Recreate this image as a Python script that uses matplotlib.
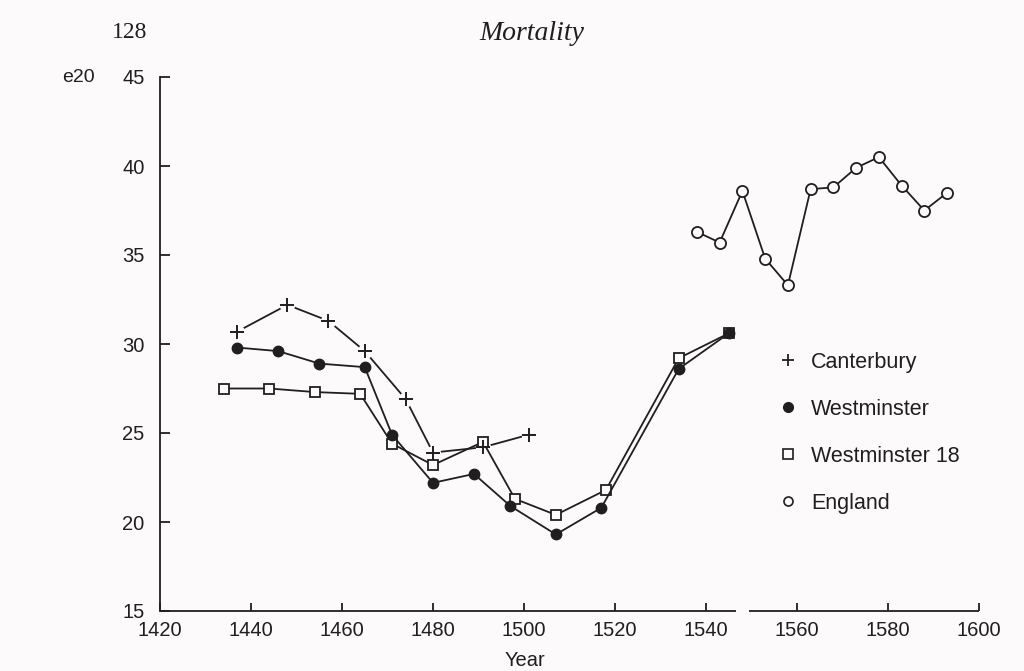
import matplotlib
matplotlib.use("Agg")
from matplotlib import pyplot as plt
from matplotlib.lines import Line2D

# values (e20 = life expectancy at age 20)
canterbury_years = [1437, 1448, 1457, 1465, 1474, 1480, 1491, 1501]
canterbury_e20 = [30.7, 32.2, 31.3, 29.6, 26.9, 23.9, 24.2, 24.9]

westminster_years = [1437, 1446, 1455, 1465, 1471, 1480, 1489, 1497, 1507, 1517, 1534, 1545]
westminster_e20 = [29.8, 29.6, 28.9, 28.7, 24.9, 22.2, 22.7, 20.9, 19.3, 20.8, 28.6, 30.6]

west18_years = [1434, 1444, 1454, 1464, 1471, 1480, 1491, 1498, 1507, 1518, 1534, 1545]
west18_e20 = [27.5, 27.5, 27.3, 27.2, 24.4, 23.2, 24.5, 21.3, 20.4, 21.8, 29.2, 30.6]

england_years = [1538, 1543, 1548, 1553, 1558, 1563, 1568, 1573, 1578, 1583, 1588, 1593]
england_e20 = [36.3, 35.7, 38.6, 34.8, 33.3, 38.7, 38.8, 39.9, 40.5, 38.9, 37.5, 38.5]

xticks = list(range(1420, 1601, 20))
yticks = list(range(15, 46, 5))
legend_labels = ["Canterbury", "Westminster", "Westminster 18", "England"]

ink = "#1f1f1f"
paper = "#fcfafa"

plt.rcParams["font.family"] = ["Liberation Sans", "DejaVu Sans"]

fig = plt.figure(figsize=(10.24, 6.71), dpi=100, facecolor=paper)
ax = fig.add_axes([160/1024, 1 - 611/671, 819/1024, 534/671])
ax.set_facecolor(paper)

# Canterbury: line with small gaps round the crosses
ax.plot(canterbury_years, canterbury_e20, color=ink, lw=1.3, zorder=2)
ax.plot(canterbury_years, canterbury_e20, ls="none", marker="o", ms=11,
        mfc=paper, mec="none", zorder=2.5)
ax.plot(canterbury_years, canterbury_e20, ls="none", marker="+", ms=10,
        mew=1.4, color=ink, zorder=5)

ax.plot(west18_years, west18_e20, color=ink, lw=1.3, marker="s", ms=7.5,
        mfc=paper, mec=ink, mew=1.3, zorder=3)
ax.plot(westminster_years, westminster_e20, color=ink, lw=1.3, marker="o", ms=7.5,
        mfc=ink, mec=ink, zorder=4)
ax.plot(england_years, england_e20, color=ink, lw=1.3, marker="o", ms=8,
        mfc=paper, mec=ink, mew=1.3, zorder=3)

ax.set_xlim(1420, 1600)
ax.set_ylim(15, 45)
ax.set_xticks(xticks)
ax.set_yticks(yticks)
ax.tick_params(axis="both", direction="in", colors=ink, labelsize=14.5, width=1.3)
ax.tick_params(axis="y", length=7, pad=11)
ax.tick_params(axis="x", length=6, pad=7)

for s in ["top", "right", "bottom"]:
    ax.spines[s].set_visible(False)
ax.spines["left"].set_color(ink)
ax.spines["left"].set_linewidth(1.3)

# broken x axis
ax.hlines(15, 1420, 1546.5, color=ink, lw=1.3, clip_on=False, zorder=6)
ax.hlines(15, 1549.5, 1600, color=ink, lw=1.3, clip_on=False, zorder=6)

handles = [
    Line2D([], [], ls="none", marker="+", ms=9, mew=1.3, color=ink),
    Line2D([], [], ls="none", marker="o", ms=7, mfc=ink, mec=ink),
    Line2D([], [], ls="none", marker="s", ms=7, mfc=paper, mec=ink, mew=1.2),
    Line2D([], [], ls="none", marker="o", ms=6.5, mfc=paper, mec=ink, mew=1.2),
]
leg = fig.legend(handles, legend_labels, loc="upper left",
                 bbox_to_anchor=(779/1024, 1 - 352/671), frameon=False,
                 fontsize=15.5, labelspacing=1.2, handlelength=0.8,
                 handletextpad=0.7, borderpad=0, borderaxespad=0)
for t in leg.get_texts():
    t.set_color(ink)

fig.text(78/1024, 1 - 78/671, "e20", fontsize=14, color=ink, ha="center", va="center")
fig.text(525/1024, 1 - 660/671, "Year", fontsize=14.5, color=ink, ha="center", va="center")
fig.text(130/1024, 1 - 33/671, "128", fontsize=17, color=ink, ha="center", va="center",
         family=["Liberation Serif", "DejaVu Serif"])
fig.text(532/1024, 1 - 33/671, "Mortality", fontsize=20, color=ink, ha="center", va="center",
         family=["Liberation Serif", "DejaVu Serif"], style="italic")

fig.savefig("out.png", dpi=100, facecolor=paper)
